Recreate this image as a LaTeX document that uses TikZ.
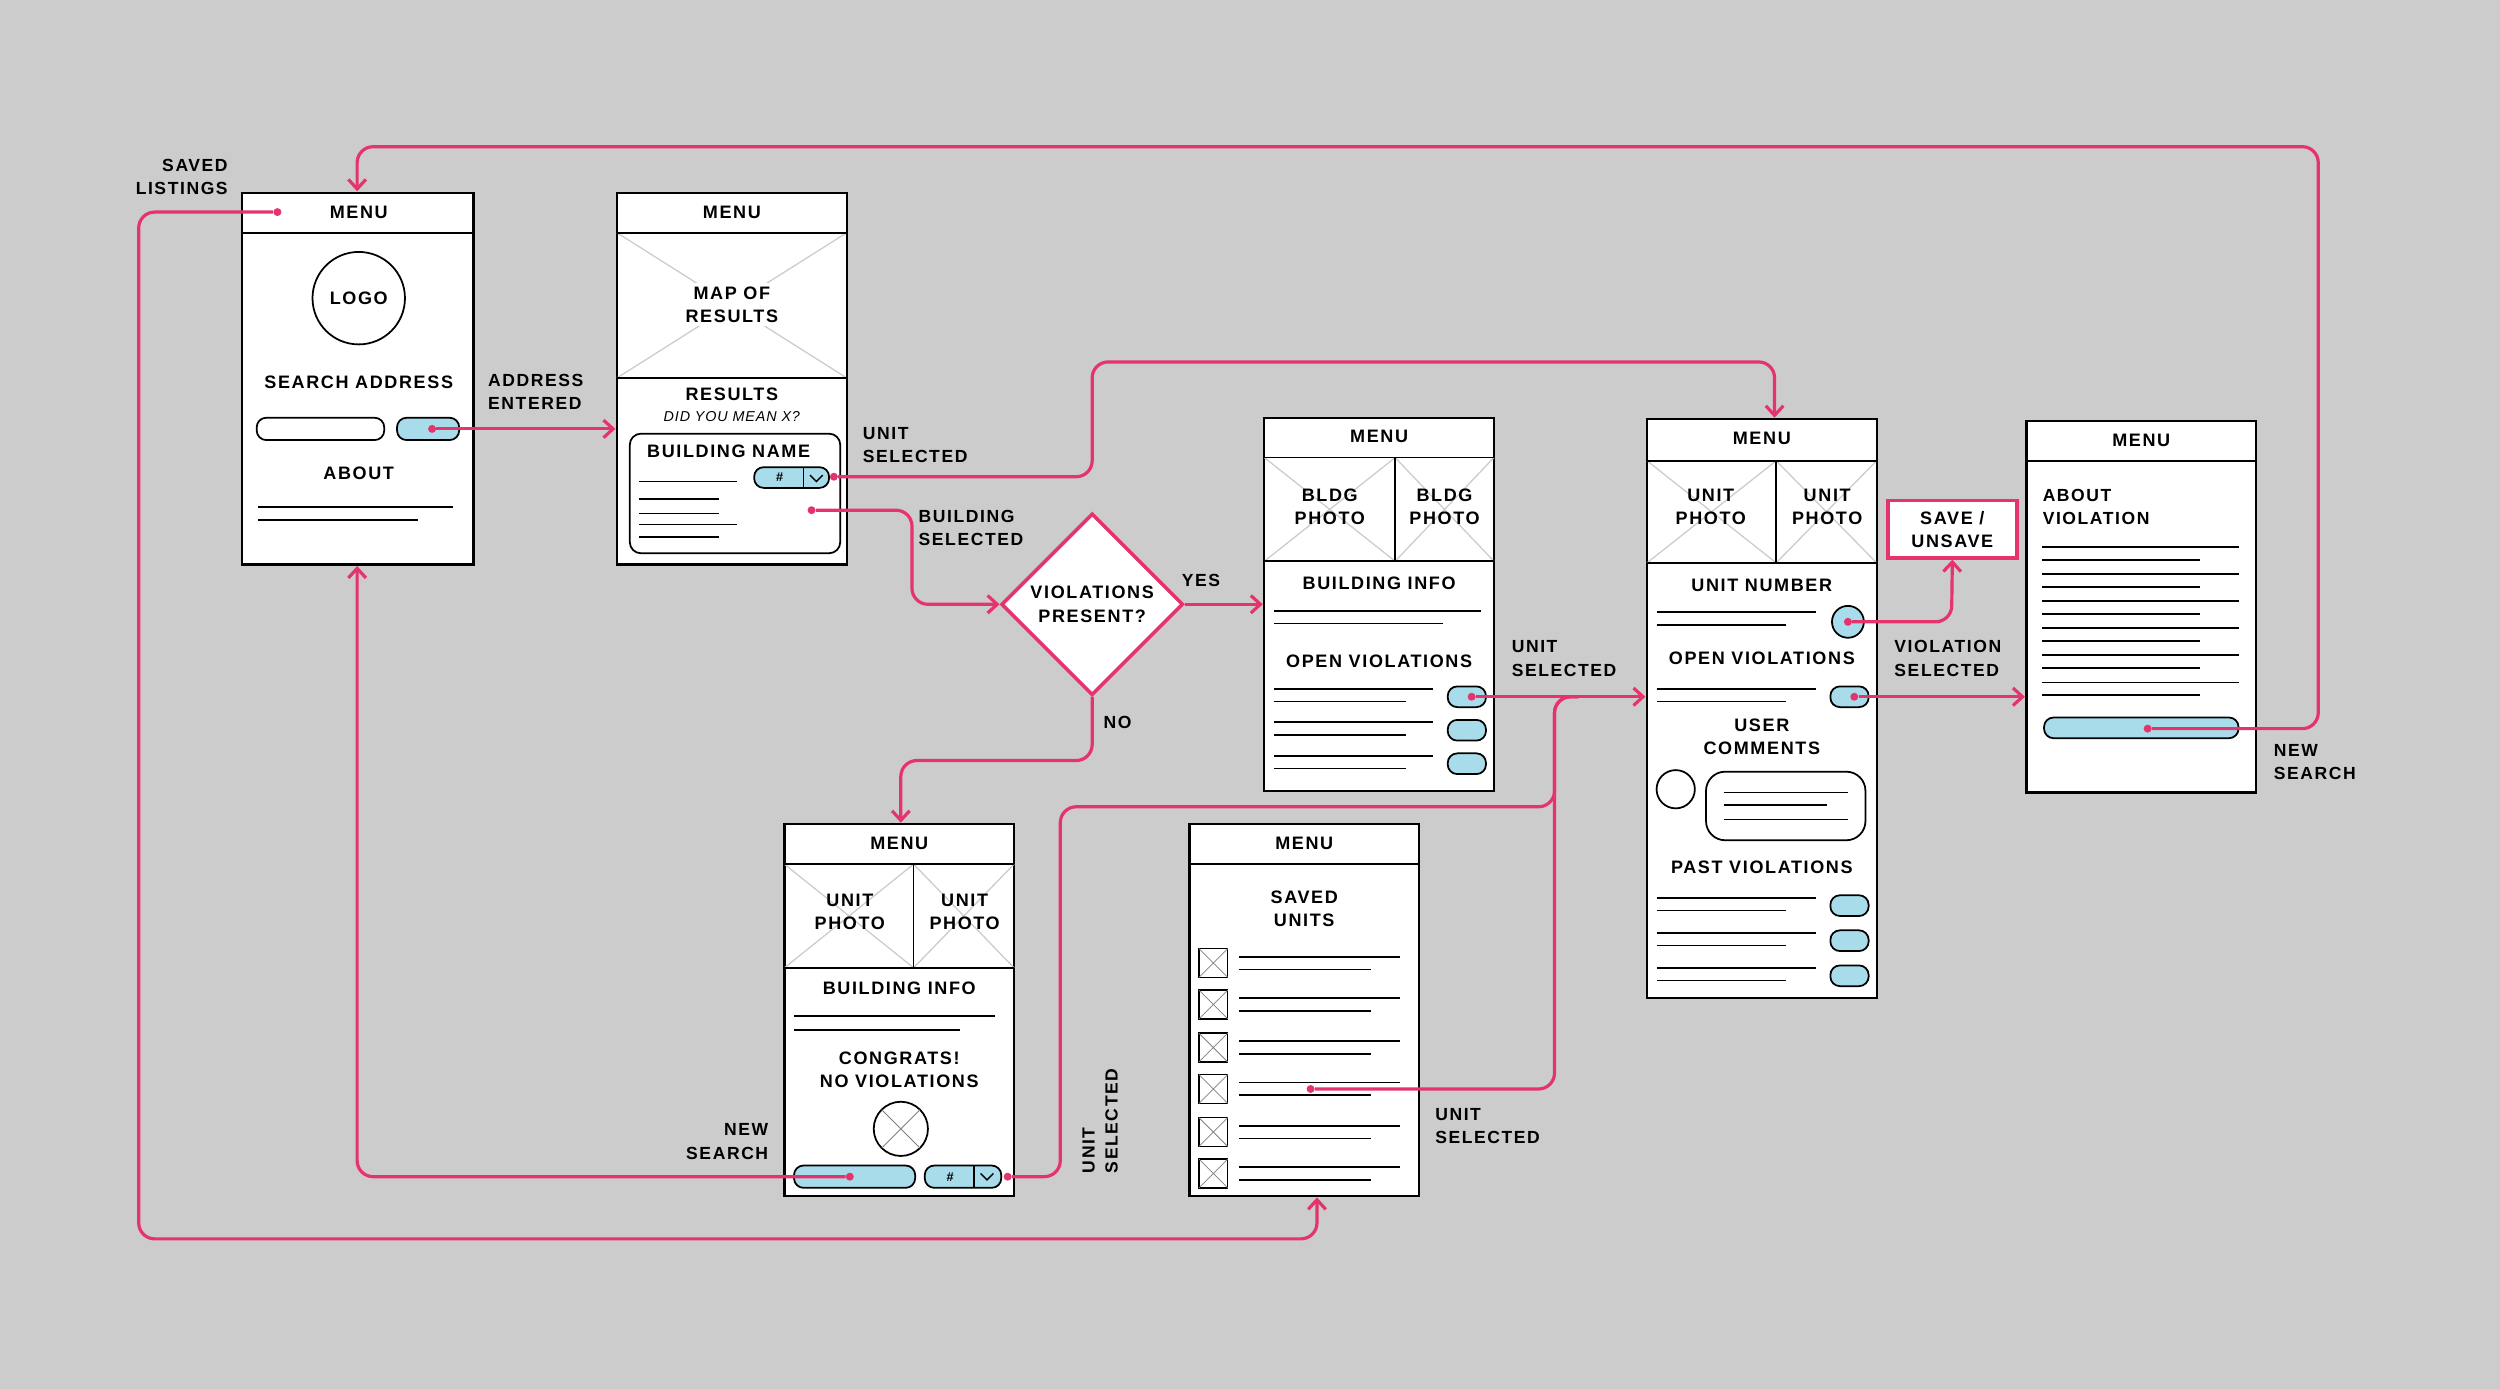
\documentclass[tikz,border=0pt]{standalone}
\usepackage{fontspec}
\setmainfont{Liberation Sans}
\newfontfamily\lab[LetterSpace=9]{Liberation Sans Bold}
\newfontfamily\labi[LetterSpace=6]{Liberation Sans Italic}
\usetikzlibrary{arrows.meta,shapes.geometric}
\definecolor{pk}{HTML}{E5336C}
\definecolor{bl}{HTML}{A8DCEB}
\definecolor{bg}{HTML}{CCCCCC}
\tikzset{
 scr/.style={draw=black,line width=1.4pt,fill=white},
 ln/.style={line width=1.1pt},
 xl/.style={draw=bg,line width=0.8pt},
 pill/.style={draw=black,line width=1.1pt,fill=bl,rounded corners=6pt},
 tx/.style={font=\lab\fontsize{11.3}{14.5}\selectfont,align=center,inner sep=0pt},
 lb/.style={font=\lab\fontsize{11}{14.5}\selectfont,align=left,inner sep=0pt,anchor=west},
 con/.style={draw=pk,line width=2pt,rounded corners=10pt},
 arr/.style={con,-{Straight Barb[length=6pt,width=11pt]}},
 dot/.style={circle,fill=pk,inner sep=0pt,minimum size=5pt},
}
\begin{document}
\begin{tikzpicture}[x=1pt,y=-1pt]
\useasboundingbox[fill=bg] (0,0) rectangle (1568,871);
% ---------- Screen 1
\draw[scr] (152,121) rectangle (297,354);
\draw[ln] (152,146) -- (297,146);
\node[tx] (s1m) at (225,133) {MENU};
\draw[ln,fill=white] (225,187) circle (29);
\node[tx] (logo) at (225,187) {LOGO};
\node[tx] at (225,240) {SEARCH ADDRESS};
\draw[ln,rounded corners=6pt] (161,262) rectangle (241,276);
\draw[pill] (249,262) rectangle (288,276);
\node[tx] at (225,297) {ABOUT};
\draw[ln] (162,318) -- (284,318) (162,326) -- (262,326);
% ---------- Screen 2
\draw[scr] (387,121) rectangle (531,354);
\draw[xl] (387,146) -- (531,237) (531,146) -- (387,237);
\draw[ln] (387,146) -- (531,146) (387,237) -- (531,237);
\node[tx] at (459,133) {MENU};
\node[tx,fill=white,inner sep=2pt] at (459,191) {MAP OF\\RESULTS};
\node[tx] at (459,247) {RESULTS};
\node[font=\labi\fontsize{9}{10}\selectfont,inner sep=0pt] at (459,261) {DID YOU MEAN X?};
\draw[ln,rounded corners=7pt] (395,272) rectangle (527,347);
\node[tx] at (457,283) {BUILDING NAME};
\draw[pill] (473,293) rectangle (520,306);
\draw[ln] (504,293) -- (504,306);
\node[font=\bfseries\fontsize{8}{9}\selectfont,inner sep=0pt] at (489,299.5) {\#};
\draw[line width=0.9pt] (508,298) -- (512,302) -- (516,298);
\draw[ln] (401,302) -- (462,302) (401,313) -- (451,313) (401,322) -- (451,322) (401,329) -- (462,329) (401,337) -- (451,337);
% ---------- Screen 3
\draw[scr] (793,262) rectangle (937,496);
\draw[xl] (793,287) -- (875,352) (875,287) -- (793,352) (875,287) -- (937,352) (937,287) -- (875,352);
\draw[ln] (793,287) -- (937,287) (793,352) -- (937,352) (875,287) -- (875,352);
\node[tx] at (865,274) {MENU};
\node[tx] at (834,318) {BLDG\\PHOTO};
\node[tx] at (906,318) {BLDG\\PHOTO};
\node[tx] at (865,366) {BUILDING INFO};
\draw[ln] (799,383) -- (929,383) (799,391) -- (905,391);
\node[tx] at (865,415) {OPEN VIOLATIONS};
\foreach \y in {437,458,479}{
 \draw[pill] (908,\y-6.5) rectangle (932,\y+6.5);
 \draw[ln] (799,\y-5) -- (899,\y-5) (799,\y+3) -- (882,\y+3);}
% ---------- Screen 4
\draw[scr] (492,517) rectangle (636,750);
\draw[xl] (492,542) -- (573,607) (573,542) -- (492,607) (573,542) -- (636,607) (636,542) -- (573,607);
\draw[ln] (492,542) -- (636,542) (492,607) -- (636,607) (573,542) -- (573,607);
\node[tx] at (564,529) {MENU};
\node[tx] at (533,572) {UNIT\\PHOTO};
\node[tx] at (605,572) {UNIT\\PHOTO};
\node[tx] at (564,620) {BUILDING INFO};
\draw[ln] (498,637) -- (624,637) (498,646) -- (602,646);
\node[tx] at (564,671) {CONGRATS!\\NO VIOLATIONS};
\draw[ln] (565,708) circle (17);
\draw[xl,line width=0.6pt,draw=gray] (553,696) -- (577,720) (577,696) -- (553,720);
\draw[pill] (498,731) rectangle (574,745);
\draw[pill] (580,731) rectangle (628,745);
\draw[ln] (611,731) -- (611,745);
\node[font=\bfseries\fontsize{8}{9}\selectfont,inner sep=0pt] at (596,738) {\#};
\draw[line width=0.9pt] (615,736) -- (619,740) -- (623,736);
% ---------- Screen 5
\draw[scr] (746,517) rectangle (890,750);
\draw[ln] (746,542) -- (890,542);
\node[tx] at (818,529) {MENU};
\node[tx] at (818,570) {SAVED\\UNITS};
\foreach \y in {604,630,657,683,710,736}{
 \draw[line width=0.9pt] (752,\y-9) rectangle (770,\y+9);
 \draw[line width=0.5pt,draw=gray] (752,\y-9) -- (770,\y+9) (770,\y-9) -- (752,\y+9);
 \draw[ln] (777,\y-4) -- (878,\y-4) (777,\y+4) -- (860,\y+4);}
% ---------- Screen 6
\draw[scr] (1033,263) rectangle (1177,626);
\draw[xl] (1033,289) -- (1114,353) (1114,289) -- (1033,353) (1114,289) -- (1177,353) (1177,289) -- (1114,353);
\draw[ln] (1033,289) -- (1177,289) (1033,353) -- (1177,353) (1114,289) -- (1114,353);
\node[tx] at (1105,275) {MENU};
\node[tx] at (1073,318) {UNIT\\PHOTO};
\node[tx] at (1146,318) {UNIT\\PHOTO};
\node[tx] at (1105,367) {UNIT NUMBER};
\draw[ln] (1039,384) -- (1139,384) (1039,392) -- (1120,392);
\draw[ln,fill=bl] (1159,390) circle (10);
\node[tx] at (1105,413) {OPEN VIOLATIONS};
\draw[ln] (1039,432) -- (1139,432) (1039,440) -- (1120,440);
\draw[pill] (1148,430.5) rectangle (1172,443.5);
\node[tx] at (1105,462) {USER\\COMMENTS};
\draw[ln] (1051,495) circle (12);
\draw[ln,rounded corners=12pt] (1070,484) rectangle (1170,527);
\draw[ln] (1081,497) -- (1159,497) (1081,505) -- (1146,505) (1081,514) -- (1159,514);
\node[tx] at (1105,544) {PAST VIOLATIONS};
\foreach \y in {568,590,612}{
 \draw[pill] (1148,\y-6.5) rectangle (1172,\y+6.5);
 \draw[ln] (1039,\y-5) -- (1139,\y-5) (1039,\y+3) -- (1120,\y+3);}
% save box
\draw[draw=pk,line width=2.2pt,fill=white] (1184,314) rectangle (1265,350);
\node[tx] (save) at (1224.5,332) {SAVE /\\UNSAVE};
% ---------- Screen 7
\draw[scr] (1271,264) rectangle (1415,497);
\draw[ln] (1271,289) -- (1415,289);
\node[tx] at (1343,276) {MENU};
\node[lb] at (1281,318) {ABOUT\\VIOLATION};
\foreach \y/\e in {343/1404,351/1380,360/1404,368/1380,377/1404,385/1380,394/1404,402/1380,411/1404,419/1380,428/1404,436/1380}
 \draw[ln] (1281,\y) -- (\e,\y);
\draw[pill] (1282,450) rectangle (1404,463);
% ---------- Diamond
\node[diamond,draw=pk,line width=2.2pt,fill=white,minimum width=114pt,minimum height=114pt,inner sep=0pt] (dia) at (685,379) {};
\node[tx] at (685,379) {VIOLATIONS\\PRESENT?};
% ---------- dots / coordinates
\node[dot] (d1) at (271,269) {};
\node[dot] (d2) at (523,299) {};
\node[dot] (d3) at (509,320) {};
\node[dot] (d4) at (923,437) {};
\node[dot] (d5) at (632,738) {};
\node[dot] (d6) at (822,683) {};
\node[dot] (d7) at (1159,390) {};
\node[dot] (d8) at (1163,437) {};
\node[dot] (d9) at (1347,457) {};
\node[dot] (d10) at (533,738) {};
\node[dot] (d11) at (174,133) {};
\coordinate (s2l) at (386,269);
\coordinate (s6t) at (1113,262);
\coordinate (s3l) at (792,379);
\coordinate (s4t) at (565,516);
\coordinate (s6l) at (1032,437);
\coordinate (s7l) at (1270,437);
\coordinate (s1t) at (224,120);
\coordinate (s1b) at (224,355);
\coordinate (s5b) at (826,751);
% ---------- connectors
\draw[arr] (d1) -- (s2l);
\draw[arr] (d2) -- (685,299) -- (685,227) -- (1113,227) -- (s6t);
\draw[arr] (d3) -- (572,320) -- (572,379) -- (dia.west);
\draw[arr] (dia.east) -- (s3l);
\draw[arr] (dia.south) -- (685,477) -- (565,477) -- (s4t);
\draw[arr] (d4) -- (s6l);
\draw[con] (d5) -- (665,738) -- (665,506) -- (975,506) -- (975,437) -- (990,437);
\draw[con] (d6) -- (975,683) -- (975,437) -- (990,437);
\draw[arr] (d7) -- (1224,390) -- (save.south |- 0,351);
\draw[arr] (d8) -- (s7l);
\draw[arr] (d9) -- (1454,457) -- (1454,92) -- (224,92) -- (s1t);
\draw[arr] (d10) -- (224,738) -- (s1b);
\draw[arr] (d11) -- (87,133) -- (87,777) -- (826,777) -- (s5b);
% ---------- labels
\node[lb] at (306,246) {ADDRESS\\ENTERED};
\node[lb] at (541,279) {UNIT\\SELECTED};
\node[lb] at (576,331) {BUILDING\\SELECTED};
\node[lb] at (741,364) {YES};
\node[lb] at (692,453) {NO};
\node[lb] at (948,413) {UNIT\\SELECTED};
\node[lb,rotate=90,anchor=center] at (690,703) {UNIT\\SELECTED};
\node[lb] at (900,706) {UNIT\\SELECTED};
\node[lb] at (1188,413) {VIOLATION\\SELECTED};
\node[lb] at (1426,478) {NEW\\SEARCH};
\node[lb,anchor=east,align=right] at (482,716) {NEW\\SEARCH};
\node[lb,anchor=east,align=right] at (143,111) {SAVED\\LISTINGS};
\end{tikzpicture}
\end{document}
